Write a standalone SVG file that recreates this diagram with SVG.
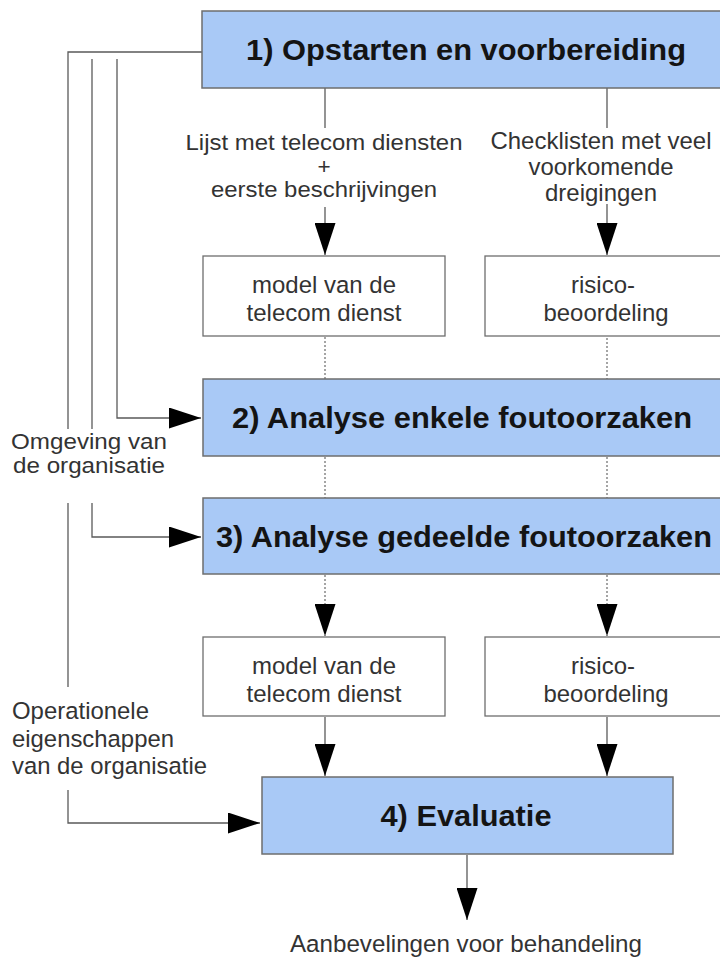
<svg xmlns="http://www.w3.org/2000/svg" width="720" height="958" viewBox="0 0 720 958">
  <style>
    .step { fill: #a9c9f6; stroke: #6e6e6e; stroke-width: 1.5; }
    .doc { fill: #ffffff; stroke: #6e6e6e; stroke-width: 1.3; }
    .title { font-family: "Liberation Sans", Arial, sans-serif; font-size: 30px; font-weight: bold; fill: #141414; text-anchor: middle; }
    .lbl { font-family: "Liberation Sans", Arial, sans-serif; font-size: 24.5px; fill: #333333; }
    .tight { font-size: 22.5px; }
    .mid { text-anchor: middle; }
    .wire { fill: none; stroke: #5a5a5a; stroke-width: 1.3; }
    .dot { fill: none; stroke: #6a6a6a; stroke-width: 1.2; stroke-dasharray: 2 2; }
  </style>
  <defs>
    <marker id="arrow" markerUnits="userSpaceOnUse" markerWidth="32" markerHeight="21" viewBox="0 0 32 21" refX="32" refY="10.5" orient="auto">
      <path d="M0,0 L32,10.5 L0,21 Z" fill="#000000"/>
    </marker>
  </defs>

  <rect width="720" height="958" fill="#ffffff"/>

  <!-- connectors -->
  <g id="connectors">
    <!-- environment of the organisation, left rail -->
    <polyline class="wire" points="202,52 68,52 68,429"/>
    <line class="wire" x1="68" y1="503" x2="68" y2="687"/>
    <polyline class="wire" points="68,790 68,823 260,823" marker-end="url(#arrow)"/>
    <line class="wire" x1="92" y1="59" x2="92" y2="429"/>
    <polyline class="wire" points="92,503 92,537 201,537" marker-end="url(#arrow)"/>
    <polyline class="wire" points="117,59 117,418 201,418" marker-end="url(#arrow)"/>

    <!-- outputs of step 1 -->
    <line class="wire" x1="325" y1="88" x2="325" y2="128"/>
    <line class="wire" x1="607" y1="88" x2="607" y2="128"/>
    <line class="wire" x1="325" y1="207" x2="325" y2="255" marker-end="url(#arrow)"/>
    <line class="wire" x1="607" y1="204" x2="607" y2="255" marker-end="url(#arrow)"/>

    <!-- dotted flow through steps 2 and 3 -->
    <line class="dot" x1="325" y1="337" x2="325" y2="379"/>
    <line class="dot" x1="607" y1="318" x2="607" y2="379"/>
    <line class="dot" x1="325" y1="457" x2="325" y2="498"/>
    <line class="dot" x1="607" y1="457" x2="607" y2="498"/>
    <line class="dot" x1="325" y1="575" x2="325" y2="636" marker-end="url(#arrow)"/>
    <line class="dot" x1="607" y1="575" x2="607" y2="636" marker-end="url(#arrow)"/>

    <!-- into evaluation -->
    <line class="wire" x1="325" y1="717" x2="325" y2="776" marker-end="url(#arrow)"/>
    <line class="wire" x1="607" y1="717" x2="607" y2="776" marker-end="url(#arrow)"/>
    <line class="wire" x1="467" y1="855" x2="467" y2="920" marker-end="url(#arrow)"/>
  </g>

  <!-- step 1 -->
  <g id="step1">
    <rect class="step" x="202" y="11" width="528" height="77"/>
    <text class="title" x="466" y="60" textLength="440" lengthAdjust="spacingAndGlyphs">1) Opstarten en voorbereiding</text>
  </g>

  <!-- labels on the step 1 outputs -->
  <g id="services-list">
    <text class="lbl tight mid" x="324" y="150" textLength="277" lengthAdjust="spacingAndGlyphs">Lijst met telecom diensten</text>
    <text class="lbl tight mid" x="324" y="174">+</text>
    <text class="lbl tight mid" x="324" y="197" textLength="226" lengthAdjust="spacingAndGlyphs">eerste beschrijvingen</text>
  </g>
  <g id="threat-checklists">
    <text class="lbl mid" x="601" y="149" textLength="221" lengthAdjust="spacingAndGlyphs">Checklisten met veel</text>
    <text class="lbl mid" x="601" y="175" textLength="145" lengthAdjust="spacingAndGlyphs">voorkomende</text>
    <text class="lbl mid" x="601" y="201" textLength="112" lengthAdjust="spacingAndGlyphs">dreigingen</text>
  </g>

  <!-- upper documents -->
  <g id="service-model-1">
    <rect class="doc" x="203" y="256" width="242" height="80"/>
    <text class="lbl mid" x="324" y="293" textLength="144" lengthAdjust="spacingAndGlyphs">model van de</text>
    <text class="lbl mid" x="324" y="321" textLength="155" lengthAdjust="spacingAndGlyphs">telecom dienst</text>
  </g>
  <g id="risk-assessment-1">
    <rect class="doc" x="485" y="256" width="242" height="80"/>
    <text class="lbl mid" x="603" y="293" textLength="64" lengthAdjust="spacingAndGlyphs">risico-</text>
    <text class="lbl mid" x="606" y="321" textLength="125" lengthAdjust="spacingAndGlyphs">beoordeling</text>
  </g>

  <!-- step 2 -->
  <g id="step2">
    <rect class="step" x="203" y="379" width="527" height="77"/>
    <text class="title" x="462" y="428" textLength="460" lengthAdjust="spacingAndGlyphs">2) Analyse enkele foutoorzaken</text>
  </g>

  <g id="environment">
    <text class="lbl tight mid" x="89" y="449" textLength="156" lengthAdjust="spacingAndGlyphs">Omgeving van</text>
    <text class="lbl tight mid" x="89" y="473" textLength="152" lengthAdjust="spacingAndGlyphs">de organisatie</text>
  </g>

  <!-- step 3 -->
  <g id="step3">
    <rect class="step" x="203" y="498" width="527" height="76"/>
    <text class="title" x="464" y="547" textLength="496" lengthAdjust="spacingAndGlyphs">3) Analyse gedeelde foutoorzaken</text>
  </g>

  <!-- lower documents -->
  <g id="service-model-2">
    <rect class="doc" x="203" y="637" width="242" height="79"/>
    <text class="lbl mid" x="324" y="674" textLength="144" lengthAdjust="spacingAndGlyphs">model van de</text>
    <text class="lbl mid" x="324" y="702" textLength="155" lengthAdjust="spacingAndGlyphs">telecom dienst</text>
  </g>
  <g id="risk-assessment-2">
    <rect class="doc" x="485" y="637" width="242" height="79"/>
    <text class="lbl mid" x="603" y="674" textLength="64" lengthAdjust="spacingAndGlyphs">risico-</text>
    <text class="lbl mid" x="606" y="702" textLength="125" lengthAdjust="spacingAndGlyphs">beoordeling</text>
  </g>

  <g id="operational-properties">
    <text class="lbl" x="12" y="719" textLength="137" lengthAdjust="spacingAndGlyphs">Operationele</text>
    <text class="lbl" x="12" y="747" textLength="162" lengthAdjust="spacingAndGlyphs">eigenschappen</text>
    <text class="lbl" x="12" y="774" textLength="195" lengthAdjust="spacingAndGlyphs">van de organisatie</text>
  </g>

  <!-- step 4 -->
  <g id="step4">
    <rect class="step" x="262" y="777" width="411" height="77"/>
    <text class="title" x="466" y="826" textLength="171" lengthAdjust="spacingAndGlyphs">4) Evaluatie</text>
  </g>

  <g id="recommendations">
    <text class="lbl mid" x="466" y="952" textLength="352" lengthAdjust="spacingAndGlyphs">Aanbevelingen voor behandeling</text>
  </g>
</svg>
